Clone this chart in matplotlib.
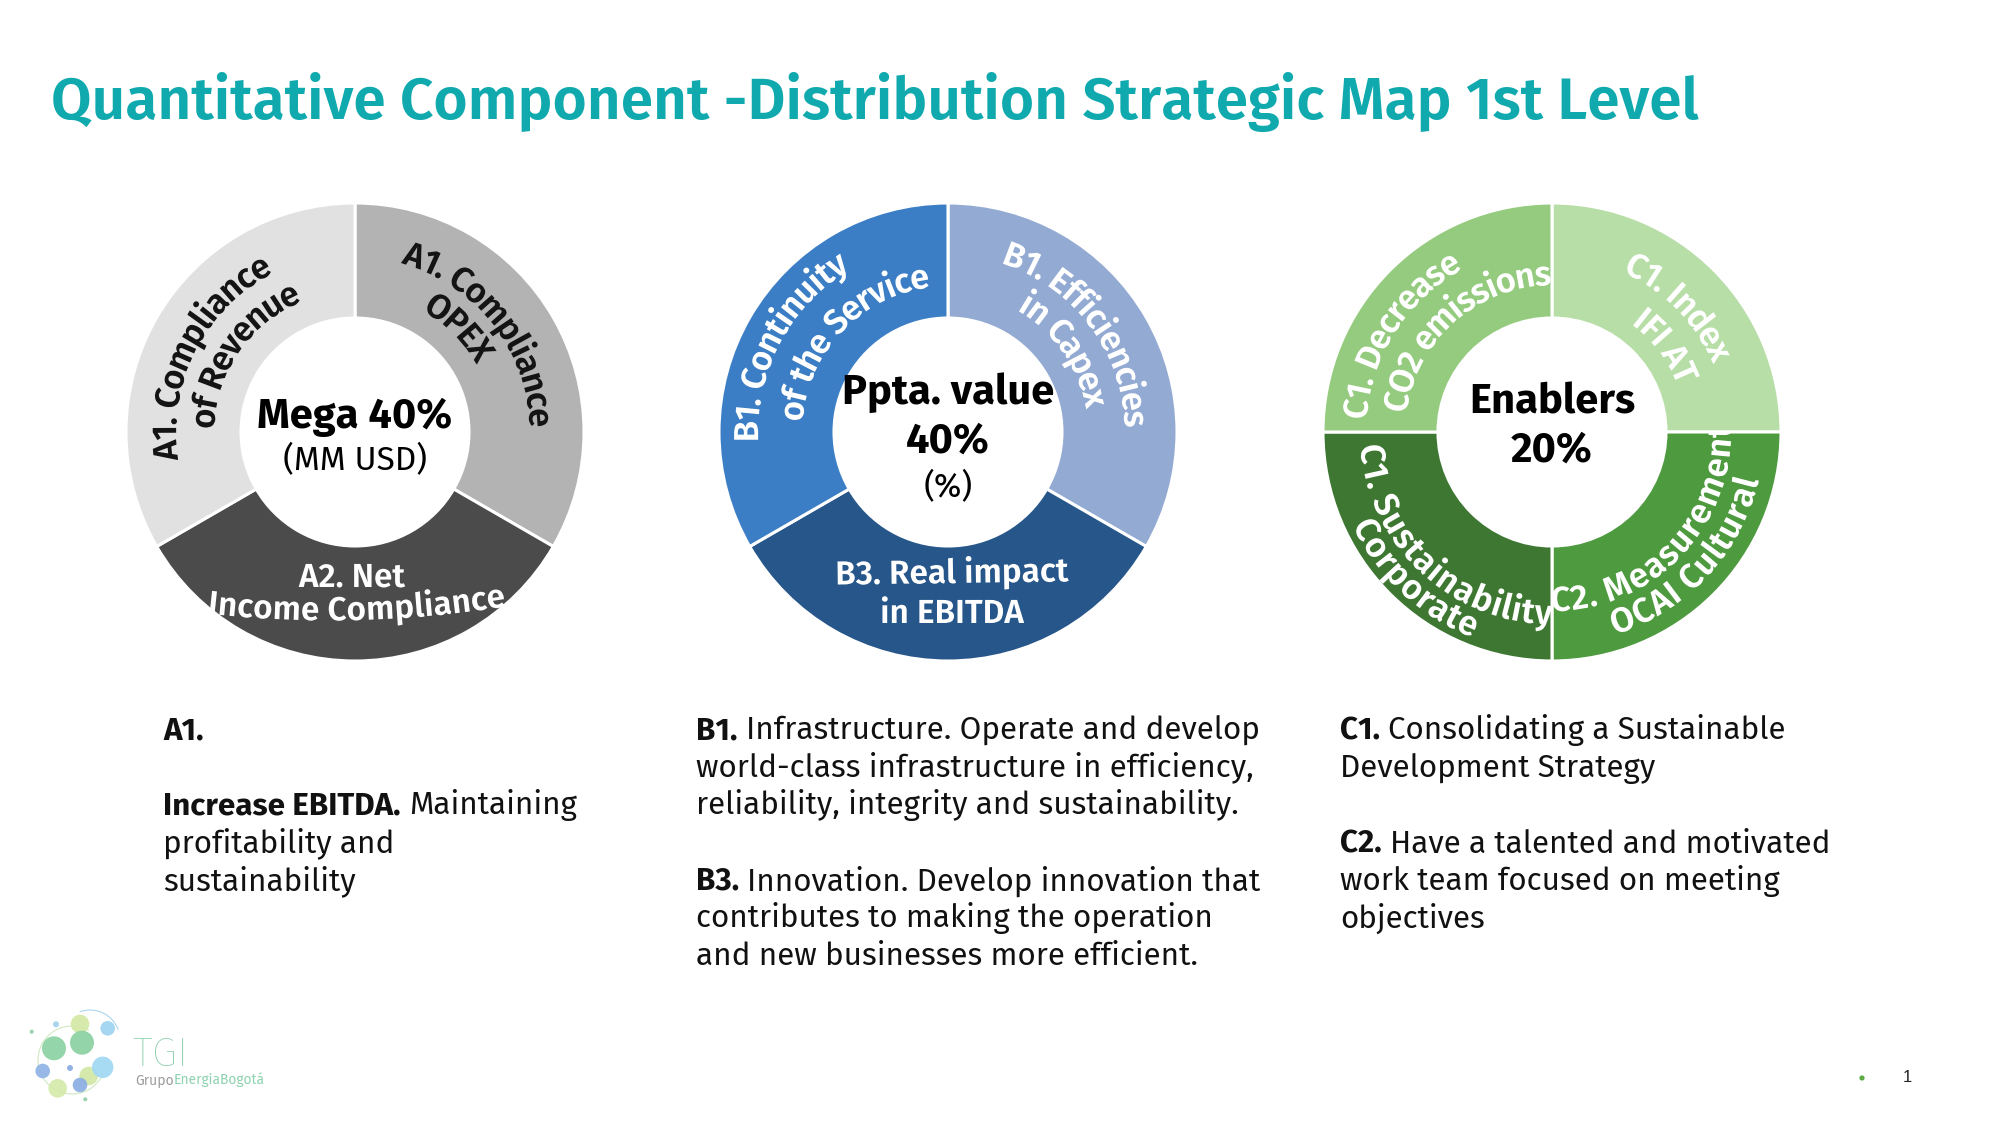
import matplotlib
matplotlib.use("Agg")
import numpy as np
import matplotlib.pyplot as plt
from matplotlib.font_manager import FontProperties, findfont, get_font
from matplotlib.textpath import TextPath
from matplotlib.patches import PathPatch, Circle, Arc
from matplotlib.transforms import Affine2D

try:
    from matplotlib.ft2font import LoadFlags
    NOHINT = LoadFlags.NO_HINTING
except Exception:
    from matplotlib.ft2font import LOAD_NO_HINTING as NOHINT
try:
    from matplotlib.ft2font import Kerning
    KDEF = Kerning.DEFAULT
except Exception:
    from matplotlib.ft2font import KERNING_DEFAULT as KDEF

W, H = 1999, 1125
FAM = ['Fira Sans', 'Open Sans', 'DejaVu Sans']
plt.rcParams['font.family'] = FAM

# ---------------- data ----------------
title = "Quantitative Component -Distribution Strategic Map 1st Level"

group_names = ["Mega", "Ppta. value", "Enablers"]
group_share = [40, 40, 20]
group_units = ["(MM USD)", "(%)", ""]

# segments listed clockwise from 12 o'clock
seg_A = [["A1. Compliance", "OPEX"], ["A2. Net", "Income Compliance"], ["A1. Compliance", "of Revenue"]]
val_A = [1, 1, 1]
col_A = ["#B3B3B3", "#4B4B4B", "#E1E1E1"]
txt_A = ["#141414", "#FFFFFF", "#141414"]

seg_B = [["B1. Efficiencies", "in Capex"], ["B3. Real impact", "in EBITDA"], ["B1. Continuity", "of the Service"]]
val_B = [1, 1, 1]
col_B = ["#93AAD3", "#26568A", "#3B7EC5"]
txt_B = ["#FFFFFF", "#FFFFFF", "#FFFFFF"]

seg_C = [["C1. Index", "IFI AT"], ["C2. Measurement", "OCAI Cultural"],
         ["C1. Sustainability", "Corporate"], ["C1. Decrease", "CO2 emissions"]]
val_C = [1, 1, 1, 1]
col_C = ["#B8DEA8", "#4E9A3E", "#3E7732", "#95CB7E"]
txt_C = ["#FFFFFF", "#FFFFFF", "#FFFFFF", "#FFFFFF"]

col_text_A = [[("A1.", True)], None,
              [("Increase EBITDA.", True), ("Maintaining", False)],
              [("profitability and", False)],
              [("sustainability", False)]]
col_text_B = [[("B1.", True), ("Infrastructure. Operate and develop", False)],
              [("world-class infrastructure in efficiency,", False)],
              [("reliability, integrity and sustainability.", False)],
              None,
              [("B3.", True), ("Innovation. Develop innovation that", False)],
              [("contributes to making the operation", False)],
              [("and new businesses more efficient.", False)]]
col_text_C = [[("C1.", True), ("Consolidating a Sustainable", False)],
              [("Development Strategy", False)],
              None,
              [("C2.", True), ("Have a talented and motivated", False)],
              [("work team focused on meeting", False)],
              [("objectives", False)]]

# ---------------- layout ----------------
R_OUT, R_IN = 229, 114
centers = [(355, 432), (948, 432), (1552, 432)]      # top-origin pixels
# per segment, per line: ('cw'|'ccw', angle_deg, radius) or ('flat', x, y_baseline, tilt, R)
lay_A = [[('cw', 38, 187), ('cw', 45, 151)],
         [('flat', 352, 587, 0, 1e5), ('flat', 357, 620, 1.4, 1100)],
         [('cw', 153, 191), ('cw', 145.5, 153)]]
lay_B = [[('cw', 37, 189), ('cw', 35, 152)],
         [('flat', 952, 583, 0.8, 1e5), ('flat', 952, 623, 0, 1e5)],
         [('cw', 152, 202), ('cw', 136.5, 158)]]
lay_C = [[('cw', 44.5, 187), ('cw', 37, 146)],
         [('ccw', 316, 167), ('ccw', 317, 200)],
         [('ccw', 227, 180), ('ccw', 227, 208)],
         [('cw', 147.5, 198), ('cw', 131.5, 159)]]

LABEL_FS = 25
FLAT_FS = 24
PX = 100 / 72.0


def Y(y):
    return H - y


fig = plt.figure(figsize=(W / 100, H / 100), dpi=100)
ax = fig.add_axes([0, 0, 1, 1])

wedge_sets = []
for (cx, cy), vals, cols in zip(centers, [val_A, val_B, val_C], [col_A, col_B, col_C]):
    wedges, _ = ax.pie(vals, colors=cols, startangle=90, counterclock=False,
                       radius=R_OUT, center=(cx, Y(cy)), frame=True,
                       wedgeprops=dict(width=R_OUT - R_IN, edgecolor='white', linewidth=2.2))
    wedge_sets.append(wedges)

ax.set_xlim(0, W)
ax.set_ylim(0, H)
ax.set_aspect('auto')
ax.set_autoscale_on(False)
ax.axis('off')


def glyph_layout(s, fp):
    font = get_font(findfont(fp))
    font.set_size(fp.get_size_in_points(), 100)
    xs, advs = [], []
    x = 0.0
    prev = None
    for ch in s:
        idx = font.get_char_index(ord(ch))
        if prev is not None:
            try:
                x += font.get_kerning(prev, idx, KDEF) / 64.0
            except Exception:
                pass
        g = font.load_char(ord(ch), flags=NOHINT)
        a = g.linearHoriAdvance / 65536.0
        xs.append(x)
        advs.append(a)
        x += a
        prev = idx
    return xs, advs


def arc_text(s, cx, cy, theta_c, r_c, mode, fp, color, clip):
    fs_px = fp.get_size_in_points() * PX
    xs, advs = glyph_layout(s, fp)
    total = xs[-1] + advs[-1]
    lift = 0.35 * fs_px
    for ch, x0, a in zip(s, xs, advs):
        if ch == ' ':
            continue
        off = x0 + a / 2 - total / 2
        if mode == 'cw':
            th = np.radians(theta_c) - off / r_c
            rb = r_c - lift
            rot = np.degrees(th) - 90
        else:
            th = np.radians(theta_c) + off / r_c
            rb = r_c + lift
            rot = np.degrees(th) + 90
        px = cx + rb * np.cos(th)
        py = cy + rb * np.sin(th)
        tp = TextPath((0, 0), ch, size=fs_px, prop=fp)
        tr = Affine2D().translate(-a / 2, 0).rotate_deg(rot).translate(px, py) + ax.transData
        p = PathPatch(tp, facecolor=color, edgecolor='none', lw=0, transform=tr)
        ax.add_patch(p)
        if clip is not None:
            p.set_clip_path(clip)


label_fp = FontProperties(family=FAM, weight='semibold', size=LABEL_FS)
flat_fp = FontProperties(family=FAM, weight='semibold', size=FLAT_FS)

for (cx, cy), segs, lays, tcols, wedges in zip(centers, [seg_A, seg_B, seg_C],
                                               [lay_A, lay_B, lay_C],
                                               [txt_A, txt_B, txt_C], wedge_sets):
    for lines, lay, tc, wdg in zip(segs, lays, tcols, wedges):
        for line, spec in zip(lines, lay):
            if spec[0] == 'flat':
                _, mx, my, tilt, Rv = spec
                t = np.radians(tilt)
                u = np.array([-np.sin(t), np.cos(t)])
                lift = 0.35 * FLAT_FS * PX
                G = np.array([mx, Y(my)]) + lift * u
                C = G + Rv * u
                arc_text(line, C[0], C[1], -90 + tilt, Rv, 'ccw', flat_fp, tc, wdg)
            else:
                mode, ang, rr = spec
                arc_text(line, cx, Y(cy), ang, rr, mode, label_fp, tc, wdg)

# centre texts
cent_lines = [
    [(f"{group_names[0]} {group_share[0]}%", 'bold', 30, 428), (group_units[0], 'normal', 24, 470)],
    [(group_names[1], 'bold', 30, 404), (f"{group_share[1]}%", 'bold', 30, 453), (group_units[1], 'normal', 24, 497)],
    [(group_names[2], 'bold', 30, 413), (f"{group_share[2]}%", 'bold', 30, 462)],
]
for (cx, cy), lines in zip(centers, cent_lines):
    for txt, wt, fs, yb in lines:
        if txt:
            ax.text(cx, Y(yb), txt, ha='center', va='baseline', fontsize=fs,
                    fontweight=wt, color='#000000')

# title
renderer = fig.canvas.get_renderer()
tt = ax.text(51, Y(119), title, fontsize=47, fontweight='semibold', color='#0FA9AE',
             ha='left', va='baseline')
wt = tt.get_window_extent(renderer).width
tt.set_fontsize(47 * 1647 / wt)

# body text
BODY_FS = 22.5
probe = ax.text(0, 0, "B1. Infrastructure. Operate and develop", fontsize=BODY_FS)
pw = probe.get_window_extent(renderer).width
probe.remove()
BODY_FS = BODY_FS * float(np.clip(562 / pw, 0.8, 1.2))

col_x = [163, 696, 1340]
base0, step = 739, 37.7
for x0, col in zip(col_x, [col_text_A, col_text_B, col_text_C]):
    for i, parts in enumerate(col):
        if not parts:
            continue
        yb = base0 + i * step
        prev = None
        for txt, bold in parts:
            w = 'bold' if bold else 'normal'
            if prev is None:
                prev = ax.text(x0, Y(yb), txt, fontsize=BODY_FS, fontweight=w,
                               color='#111111', ha='left', va='baseline')
            else:
                prev = ax.annotate(txt, xy=(1, 0), xycoords=prev,
                                   xytext=(0.26 * BODY_FS, 0), textcoords='offset points',
                                   fontsize=BODY_FS, fontweight=w, color='#111111',
                                   ha='left', va='bottom')

# logo
logo_dots = [(80, 1024, 9.3, '#D4E9A7'), (88.7, 1076, 9.3, '#D3E8A8'), (57.7, 1088.3, 9.3, '#D6EAAC'),
             (54, 1048.3, 12, '#8FD3A6'), (82, 1042.7, 12, '#8ED2A5'),
             (107.7, 1028.3, 7.3, '#A0D5F2'), (102.7, 1067.3, 10.7, '#A2D8F3'),
             (42.7, 1071, 7.3, '#93B5E6'), (70, 1068, 3, '#8CAEE3'), (80, 1085, 7.3, '#8DB0E3'),
             (56, 1024.3, 3, '#A5D3EE'), (31.7, 1031.7, 2, '#8ED1A8'), (85.3, 1099.3, 2, '#8ED1A8')]
ax.add_patch(Arc((72, Y(1060)), 68, 68, theta1=60, theta2=330, color='#CFE8C0', lw=0.8))
ax.add_patch(Arc((90, Y(1040)), 60, 60, theta1=20, theta2=110, color='#A9D6F0', lw=0.8))
for x, y, r, c in logo_dots:
    ax.add_patch(Circle((x, Y(y)), r, facecolor=c, edgecolor='none', alpha=0.95))
ax.text(132, Y(1066), "TGI", fontsize=30, fontweight='light', color='#8DD0AE',
        ha='left', va='baseline')
g1 = ax.text(135, Y(1084), "Grupo", fontsize=10, color='#9C9C9C', ha='left', va='baseline')
ax.annotate("EnergiaBogotá", xy=(1, 0), xycoords=g1, xytext=(0.3, 0), textcoords='offset points',
            fontsize=10, color='#8FD3B0', ha='left', va='bottom')

# page marker
ax.add_patch(Circle((1862, Y(1078)), 2.6, facecolor='#5BAA47', edgecolor='none'))
ax.text(1907, Y(1078), "1", fontsize=12, family=['Liberation Sans', 'DejaVu Sans'],
        color='#222222', ha='center', va='center')

fig.savefig("out.png", dpi=100)
